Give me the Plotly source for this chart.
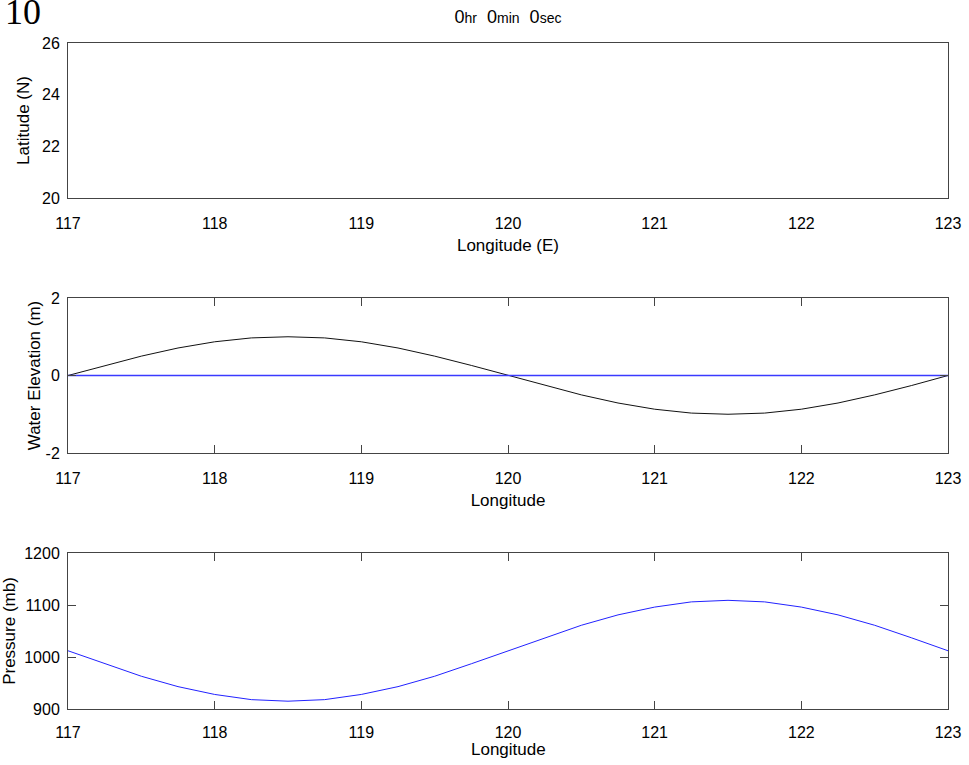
import plotly.graph_objects as go
from plotly.subplots import make_subplots

# ---- data ----
longitude = [117.0, 117.25, 117.5, 117.75, 118.0, 118.25, 118.5, 118.75, 119.0, 119.25,
             119.5, 119.75, 120.0, 120.25, 120.5, 120.75, 121.0, 121.25, 121.5, 121.75,
             122.0, 122.25, 122.5, 122.75, 123.0]
water_elevation = [0.0, 0.26, 0.5, 0.71, 0.87, 0.97, 1.0, 0.97, 0.87, 0.71,
                   0.5, 0.26, 0.0, -0.26, -0.5, -0.71, -0.87, -0.97, -1.0, -0.97,
                   -0.87, -0.71, -0.5, -0.26, 0.0]
zero_line = [0.0] * len(longitude)
pressure = [1012, 987, 963, 943, 928, 918, 915, 918, 928, 943,
            963, 987, 1012, 1037, 1061, 1081, 1096, 1106, 1109, 1106,
            1096, 1081, 1061, 1037, 1012]

x_ticks = [117, 118, 119, 120, 121, 122, 123]
lat_ticks = [20, 22, 24, 26]
elev_ticks = [-2, 0, 2]
elev_labels = ["-2", "0", "2"]
pres_ticks = [900, 1000, 1100, 1200]

W, H = 969, 765
L, R, T, B = 68, 21, 43, 56
ph = H - T - B


def py(pix):
    return (H - B - pix) / ph


fig = make_subplots(rows=3, cols=1, vertical_spacing=0.0)
fig.update_layout(
    yaxis=dict(domain=[py(198), py(43)]),
    yaxis2=dict(domain=[py(453), py(298)]),
    yaxis3=dict(domain=[py(709), py(553)]),
)

fig.add_trace(go.Scatter(x=[], y=[], mode="lines", showlegend=False), row=1, col=1)
fig.add_trace(go.Scatter(x=longitude, y=water_elevation, mode="lines",
                         line=dict(color="#111111", width=1), showlegend=False), row=2, col=1)
fig.add_trace(go.Scatter(x=longitude, y=zero_line, mode="lines",
                         line=dict(color="#3a3aff", width=1.5), showlegend=False), row=2, col=1)
fig.add_trace(go.Scatter(x=longitude, y=pressure, mode="lines",
                         line=dict(color="#2222ff", width=1), showlegend=False), row=3, col=1)

tick_font = dict(family="Liberation Sans, Arial, sans-serif", size=16, color="black")
title_font = dict(family="Liberation Sans, Arial, sans-serif", size=17, color="black")
axis_common = dict(showgrid=False, zeroline=False, showline=True, linecolor="#444444",
                   linewidth=1, mirror="ticks", tickfont=tick_font, tickcolor="#444444",
                   ticklen=8, ticks="inside", automargin=False)

x_titles = ["Longitude (E)", "Longitude", ""]
x_label_standoff = [11, 11, 9]
for i, (title, ls) in enumerate(zip(x_titles, x_label_standoff), start=1):
    xa = dict(axis_common, range=[117, 123], tickvals=x_ticks,
              ticktext=[str(v) for v in x_ticks], ticklabelstandoff=ls,
              title=dict(text=title, font=title_font, standoff=7))
    if i == 1:
        xa["ticks"] = ""
        xa["mirror"] = True
    fig.update_xaxes(xa, row=i, col=1)

fig.update_yaxes(dict(axis_common, range=[20, 26], tickvals=lat_ticks, ticks="", mirror=True,
                      ticklabelstandoff=4,
                      title=dict(text="Latitude (N)", font=title_font, standoff=8)), row=1, col=1)
fig.update_yaxes(dict(axis_common, range=[-2, 2], tickvals=elev_ticks, ticktext=elev_labels,
                      ticklabelstandoff=4,
                      title=dict(text="Water Elevation (m)", font=title_font, standoff=0)), row=2, col=1)
fig.update_yaxes(dict(axis_common, range=[900, 1200], tickvals=pres_ticks, ticklabelstandoff=4,
                      title=dict(text="Pressure (mb)", font=title_font, standoff=9)), row=3, col=1)

# bottom axis title (placed closer to the tick labels, as in the reference)
fig.add_annotation(text="Longitude", xref="paper", yref="paper", x=0.5, y=py(749),
                   xanchor="center", yanchor="middle", showarrow=False, font=title_font)

sm = "font-size:14px"
title_text = (f"0<span style='{sm}'>hr</span>&nbsp;&nbsp;0<span style='{sm}'>min</span>"
              f"&nbsp;&nbsp;0<span style='{sm}'>sec</span>")

fig.update_layout(
    width=W, height=H,
    margin=dict(l=L, r=R, t=T, b=B, autoexpand=False),
    paper_bgcolor="white", plot_bgcolor="white",
    title=dict(text=title_text, x=(L + 880 / 2) / W, xanchor="center",
               y=1 - 17 / H, yanchor="middle", yref="container", automargin=False,
               font=dict(family="Liberation Sans, Arial, sans-serif", size=18, color="black")),
    showlegend=False,
)

fig.add_annotation(text="10", xref="paper", yref="paper", x=(3 - L) / 880, y=py(34),
                   xanchor="left", yanchor="bottom", showarrow=False,
                   font=dict(family="Liberation Serif, Times New Roman, serif", size=36, color="black"))

fig.write_html("out.html", config={"displayModeBar": False},
               post_script="document.body.style.margin='0';document.body.style.overflow='hidden';")
